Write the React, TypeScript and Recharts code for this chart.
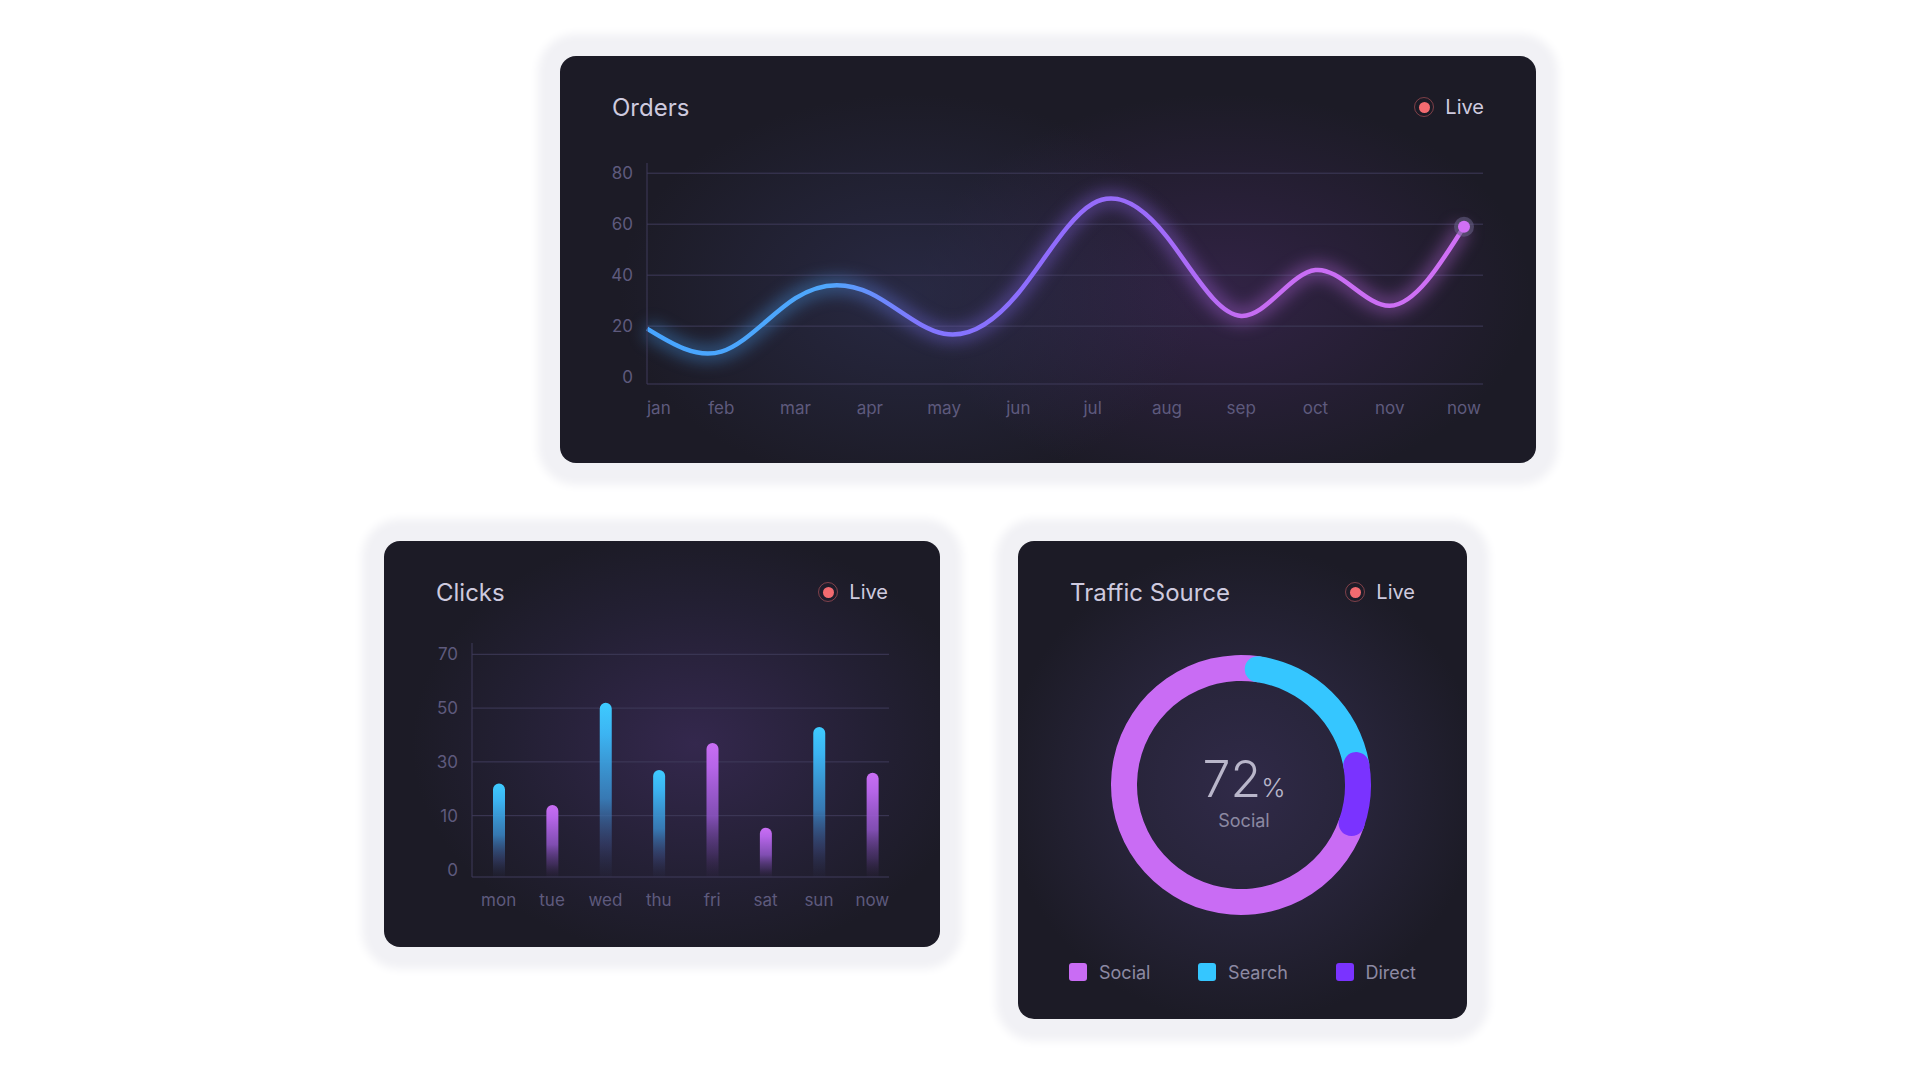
import {
  Bar,
  BarChart,
  CartesianGrid,
  Cell,
  Line,
  LineChart,
  Pie,
  PieChart,
  Sector,
  XAxis,
  YAxis,
} from "recharts";

// orders per month
const months = ["jan", "feb", "mar", "apr", "may", "jun", "jul", "aug", "sep", "oct", "nov", "now"];
const orders = [19, 10, 31, 33, 17, 33, 68, 55, 24, 42, 28, 59];
const orderTicks = [0, 20, 40, 60, 80];

// clicks per day (the axis labels are evenly spaced, the lowest one reads "0")
const days = ["mon", "tue", "wed", "thu", "fri", "sat", "sun", "now"];
const clicks = [22, 14, 52, 27, 37, 5.5, 43, 26];
const clickTicks = [-10, 10, 30, 50, 70];
const clickTickLabels = ["0", "10", "30", "50", "70"];

// traffic source shares
const sources = ["Social", "Search", "Direct"];
const shares = [72, 20, 8];

const FONT = "Inter, 'DejaVu Sans', sans-serif";
const GRID = "#3f3b5a";
const TICK = "#5e5a7d";
const TEXT = "#cecadf";

const barTones = ["blue", "purple", "blue", "blue", "purple", "purple", "blue", "purple"];
const sourceColors = ["#c96cf4", "#35c6ff", "#7a33ff"];

const orderData = months.map((m, i) => ({ month: m, orders: orders[i] }));
const clickDomain = [-12.8, 74.2];
const clickData = days.map((d, i) => ({ day: d, clicks: [clickDomain[0], clicks[i]] }));
const trafficData = sources.map((s, i) => ({ source: s, share: shares[i] }));

function LiveBadge() {
  return (
    <div style={{ display: "flex", alignItems: "center", gap: 11 }}>
      <div
        style={{
          width: 18,
          height: 18,
          borderRadius: "50%",
          border: "1.5px solid rgba(243,107,111,0.45)",
          display: "flex",
          alignItems: "center",
          justifyContent: "center",
        }}
      >
        <div style={{ width: 11, height: 11, borderRadius: "50%", background: "#f36b70" }} />
      </div>
      <span style={{ fontSize: 20, color: TEXT }}>Live</span>
    </div>
  );
}

function Card({ left, top, width, height, title, bg, children }: any) {
  return (
    <div
      style={{
        position: "absolute",
        left,
        top,
        width,
        height,
        borderRadius: 16,
        background: bg,
        boxShadow: "0 0 10px 22px #f1f1f5",
        overflow: "hidden",
        fontFamily: FONT,
      }}
    >
      {children}
      <div
        style={{
          position: "absolute",
          left: 52,
          right: 52,
          top: 36,
          height: 30,
          display: "flex",
          alignItems: "center",
          justifyContent: "space-between",
        }}
      >
        <span style={{ fontSize: 24, color: TEXT }}>{title}</span>
        <LiveBadge />
      </div>
    </div>
  );
}

function monthTick(props: any) {
  const { x, y, payload, index } = props;
  return (
    <text
      x={x}
      y={y}
      dy="0.71em"
      textAnchor={index === 0 ? "start" : "middle"}
      fill={TICK}
      fontSize={17}
      fontFamily={FONT}
    >
      {payload.value}
    </text>
  );
}

function endDot(props: any) {
  const { cx, cy, index } = props;
  if (index !== orders.length - 1) return <g key={index} />;
  return (
    <g key={index}>
      <circle cx={cx} cy={cy} r={10} fill="#6a6388" opacity={0.55} />
      <circle cx={cx} cy={cy} r={6} fill="#d070f5" />
    </g>
  );
}

// round caps that stick out past each slice, like a stroked arc
function roundSlice(props: any) {
  return <Sector {...props} cornerRadius={13} cornerIsExternal />;
}

function OrdersChart() {
  return (
    <LineChart
      width={976}
      height={407}
      data={orderData}
      margin={{ top: 107, right: 53, bottom: 49, left: 27 }}
    >
      <defs>
        <linearGradient id="lineGrad" x1="0" y1="0" x2="1" y2="0">
          <stop offset="0%" stopColor="#47a5ff" />
          <stop offset="22%" stopColor="#4fa7fb" />
          <stop offset="33%" stopColor="#8077ff" />
          <stop offset="48%" stopColor="#8f6cfd" />
          <stop offset="62%" stopColor="#9c6bf9" />
          <stop offset="73%" stopColor="#c56cf3" />
          <stop offset="100%" stopColor="#d070f5" />
        </linearGradient>
      </defs>
      <CartesianGrid vertical={false} stroke={GRID} horizontalValues={[20, 40, 60, 80]} />
      <XAxis
        dataKey="month"
        interval={0}
        padding={{ left: 0, right: 19 }}
        axisLine={{ stroke: GRID }}
        tickLine={false}
        tickSize={0}
        tickMargin={18}
        tick={monthTick}
      />
      <YAxis
        domain={[-2.7, 84]}
        ticks={orderTicks}
        axisLine={{ stroke: GRID }}
        tickLine={false}
        tickSize={0}
        tickMargin={14}
        tick={{ fill: TICK, fontSize: 17, fontFamily: FONT }}
      />
      <Line
        className="glow"
        type="natural"
        dataKey="orders"
        stroke="url(#lineGrad)"
        strokeWidth={16}
        strokeOpacity={0.38}
        dot={false}
        activeDot={false}
        isAnimationActive={false}
      />
      <Line
        type="natural"
        dataKey="orders"
        stroke="url(#lineGrad)"
        strokeWidth={4.5}
        dot={endDot}
        activeDot={false}
        isAnimationActive={false}
      />
    </LineChart>
  );
}

function ClicksChart() {
  return (
    <BarChart
      width={556}
      height={406}
      data={clickData}
      margin={{ top: 102, right: 51, bottom: 40, left: 28 }}
    >
      <defs>
        <linearGradient id="blueGrad" x1="0" y1="0" x2="0" y2="1">
          <stop offset="0%" stopColor="#3ecbff" />
          <stop offset="18%" stopColor="#3cb4f2" />
          <stop offset="55%" stopColor="#3a88c8" stopOpacity={0.85} />
          <stop offset="82%" stopColor="#3b4b80" stopOpacity={0.5} />
          <stop offset="100%" stopColor="#2c3152" stopOpacity={0.1} />
        </linearGradient>
        <linearGradient id="purpleGrad" x1="0" y1="0" x2="0" y2="1">
          <stop offset="0%" stopColor="#c96ef4" />
          <stop offset="18%" stopColor="#b665e8" />
          <stop offset="55%" stopColor="#9156c8" stopOpacity={0.85} />
          <stop offset="82%" stopColor="#5e3c86" stopOpacity={0.5} />
          <stop offset="100%" stopColor="#3a2850" stopOpacity={0.1} />
        </linearGradient>
      </defs>
      <CartesianGrid vertical={false} stroke={GRID} horizontalValues={[10, 30, 50, 70]} />
      <XAxis
        dataKey="day"
        interval={0}
        padding={{ left: 0, right: -10 }}
        axisLine={{ stroke: GRID }}
        tickLine={false}
        tickSize={0}
        tickMargin={17}
        tick={{ fill: TICK, fontSize: 17, fontFamily: FONT }}
      />
      <YAxis
        domain={clickDomain}
        ticks={clickTicks}
        allowDataOverflow
        tickFormatter={(v: number, i: number) => clickTickLabels[i]}
        axisLine={{ stroke: GRID }}
        tickLine={false}
        tickSize={0}
        tickMargin={14}
        tick={{ fill: TICK, fontSize: 17, fontFamily: FONT }}
      />
      <Bar dataKey="clicks" barSize={12} radius={[6, 6, 0, 0]} isAnimationActive={false}>
        {clickData.map((d, i) => (
          <Cell key={d.day} fill={`url(#${barTones[i]}Grad)`} />
        ))}
      </Bar>
    </BarChart>
  );
}

function TrafficChart() {
  return (
    <>
      <PieChart width={449} height={478} margin={{ top: 0, right: 0, bottom: 0, left: 0 }}>
        <Pie
          data={trafficData}
          dataKey="share"
          nameKey="source"
          cx={223}
          cy={244}
          innerRadius={104}
          outerRadius={130}
          startAngle={341}
          endAngle={-19}
          stroke="none"
          shape={roundSlice}
          inactiveShape={roundSlice}
          activeShape={roundSlice}
          isAnimationActive={false}
        >
          {trafficData.map((d, i) => (
            <Cell key={d.source} fill={sourceColors[i]} />
          ))}
        </Pie>
      </PieChart>
      <div
        style={{
          position: "absolute",
          left: 126,
          width: 200,
          top: 213,
          textAlign: "center",
          color: "#b9b6ca",
          lineHeight: 1,
        }}
      >
        <span style={{ fontSize: 50, fontWeight: 300 }}>{shares[0]}</span>
        <span style={{ fontSize: 26, fontWeight: 300 }}>%</span>
      </div>
      <div
        style={{
          position: "absolute",
          left: 126,
          width: 200,
          top: 271,
          textAlign: "center",
          color: "#8c89a2",
          fontSize: 18,
          lineHeight: 1,
        }}
      >
        {sources[0]}
      </div>
      <div
        style={{
          position: "absolute",
          left: 51,
          right: 51,
          top: 420,
          height: 22,
          display: "flex",
          justifyContent: "space-between",
          alignItems: "center",
        }}
      >
        {sources.map((s, i) => (
          <div key={s} style={{ display: "flex", alignItems: "center", gap: 12 }}>
            <div style={{ width: 18, height: 18, borderRadius: 3, background: sourceColors[i] }} />
            <span style={{ fontSize: 18, color: "#8d8aa3" }}>{s}</span>
          </div>
        ))}
      </div>
    </>
  );
}

export default function App() {
  return (
    <div
      style={{
        position: "absolute",
        left: 0,
        top: 0,
        width: 1920,
        height: 1076,
        background: "#ffffff",
        overflow: "hidden",
      }}
    >
      <style>{`.glow .recharts-line-curve{filter:blur(8px)}`}</style>
      <Card
        left={560}
        top={56}
        width={976}
        height={407}
        title="Orders"
        bg="radial-gradient(ellipse 40% 65% at 36% 58%, rgba(48,50,86,0.6), rgba(48,50,86,0) 75%), radial-gradient(ellipse 42% 65% at 68% 58%, rgba(64,40,90,0.6), rgba(64,40,90,0) 75%), #1c1b26"
      >
        <OrdersChart />
      </Card>
      <Card
        left={384}
        top={541}
        width={556}
        height={406}
        title="Clicks"
        bg="radial-gradient(ellipse 60% 62% at 56% 50%, rgba(56,42,84,0.85), rgba(48,40,76,0.35) 55%, rgba(28,27,38,0) 85%), #1c1b26"
      >
        <ClicksChart />
      </Card>
      <Card
        left={1018}
        top={541}
        width={449}
        height={478}
        title="Traffic Source"
        bg="radial-gradient(circle at 50% 51%, #302a48 0%, #272439 38%, #1c1b26 72%)"
      >
        <TrafficChart />
      </Card>
    </div>
  );
}
